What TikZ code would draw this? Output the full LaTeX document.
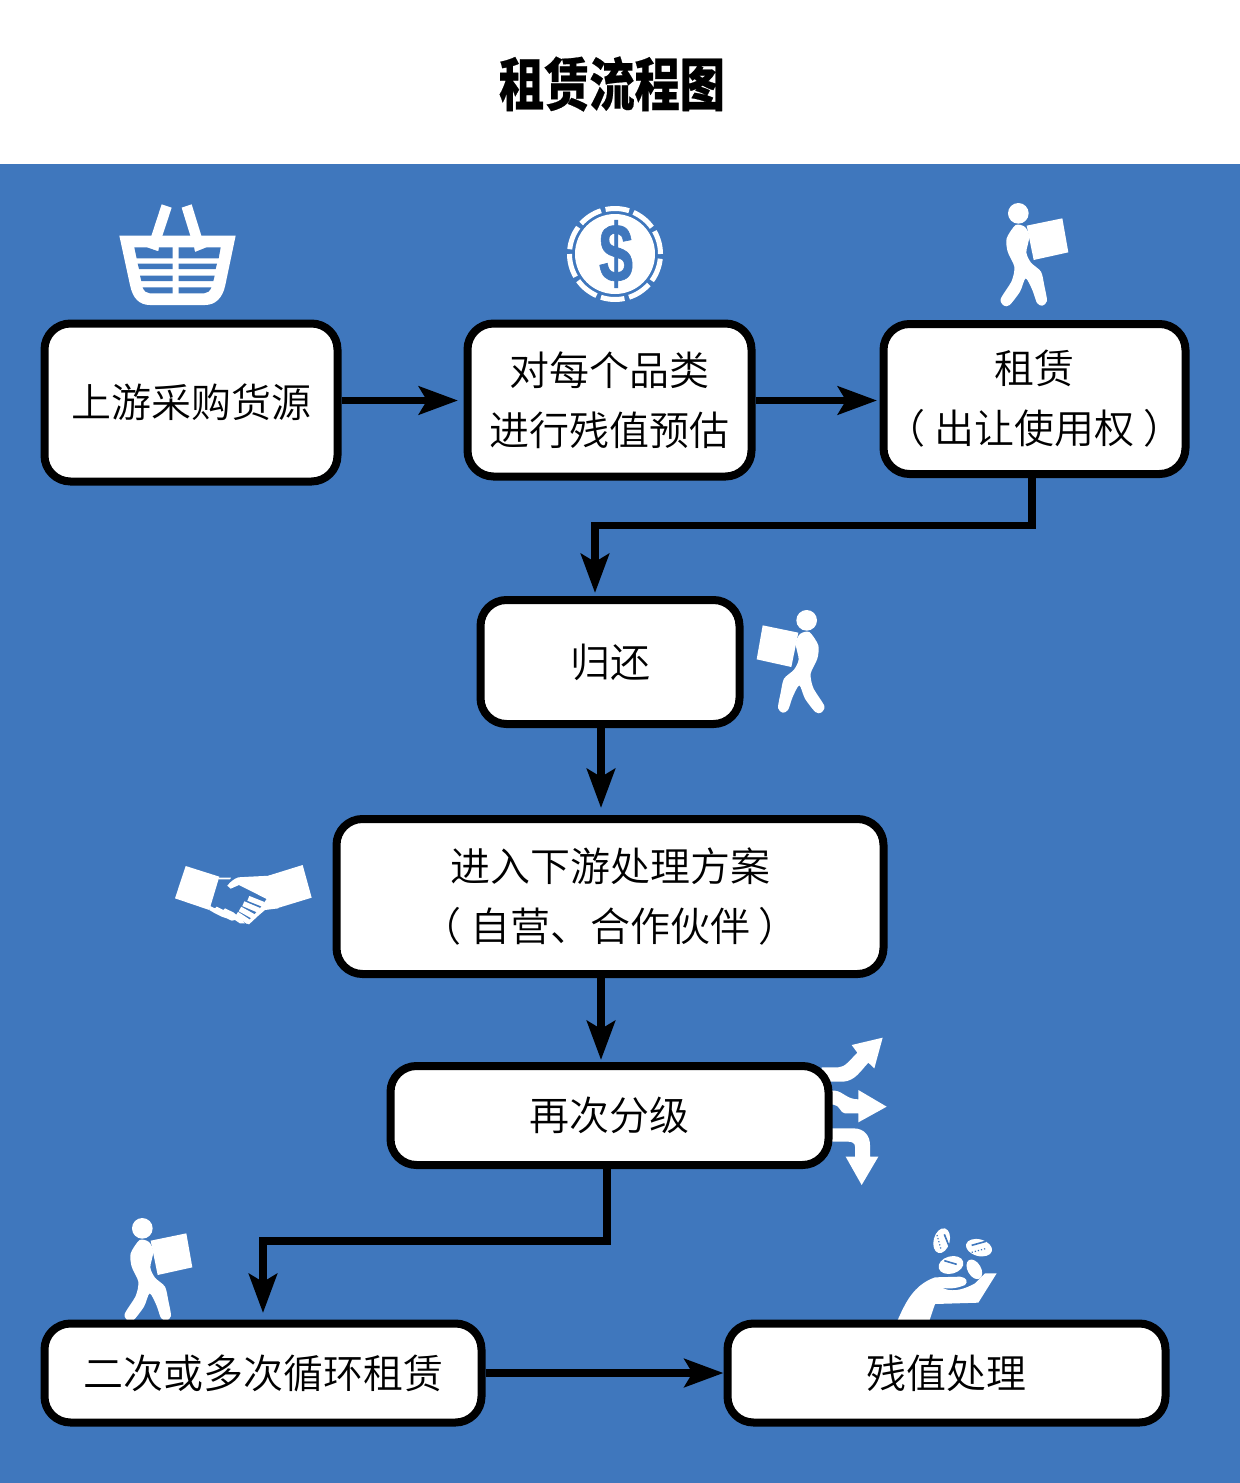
\documentclass[tikz,border=0pt]{standalone}
\usepackage{fontspec}
\newfontfamily\cjk{Noto Sans CJK SC DemiLight}
\newfontfamily\cjkbold[FakeBold=0.4]{Noto Sans CJK SC Black}
\newfontfamily\dollarfont[FakeBold=0.8]{Liberation Sans Bold}
\usetikzlibrary{calc,arrows.meta}
\definecolor{bgblue}{RGB}{63,119,189}
\tikzset{
  flowbox/.style={draw=black, line width=4pt, fill=white, rounded corners=13pt, align=center,
    font=\cjk\fontsize{20}{30}\selectfont, inner sep=0pt},
  flowline/.style={line width=3.75pt, -{Stealth[length=19.5pt,width=14pt,inset=4pt]}}
}
% 搬运工人 (原点取放大图左上角)
\def\porter{
  \fill[white] (100,55) circle (31);
  \fill[white] (125,92)--(232,70)--(250,172)--(146,195)--cycle;
  \fill[white] plot[smooth cycle, tension=0.45] coordinates {(92,90) (120,96) (133,125) (124,172) (138,203) (168,230)
    (178,272) (186,318) (172,332) (156,324) (142,285) (122,250) (105,290) (74,330) (57,332) (47,312) (80,258) (88,215) (68,170) (65,130)};
}
\begin{document}
\begin{tikzpicture}[x=0.5pt, y=-0.5pt]
  \useasboundingbox (0,0) rectangle (1240,1483);
  \fill[bgblue] (0,164) rectangle (1240,1483);
  \node[yscale=1.27, transform shape] (title) at (612,84) {\cjkbold\fontsize{22.6}{26}\selectfont 租赁流程图};

  % 购物篮
  \begin{scope}[shift={(100,190)}, scale=1/3]
    \fill[white] (185,43)--(215,53)--(183,150)--(150,150)--cycle;
    \fill[white] (245,53)--(275,43)--(308,150)--(275,150)--cycle;
    \fill[white] (58,137)--(407,137)--(376,285) .. controls (368,325) and (345,345) .. (315,345)
      --(150,345) .. controls (118,345) and (98,325) .. (90,285)--cycle;
    \fill[bgblue] (103,172)--(140,172)--(175,184)--(177,172)--(218,172)--(218,205)--(110,205)--cycle;
    \fill[bgblue] (236,172)--(282,172)--(285,186)--(320,172)--(362,172)--(356,205)--(236,205)--cycle;
    \fill[bgblue] (113,221)--(218,221)--(218,237)--(117,237)--cycle;
    \fill[bgblue] (236,221)--(351,221)--(347,237)--(236,237)--cycle;
    \fill[bgblue] (120,257)--(218,257)--(218,273)--(124,273)--cycle;
    \fill[bgblue] (236,257)--(344,257)--(340,273)--(236,273)--cycle;
    \fill[bgblue] (128,292)--(218,292)--(218,310)--(150,310) .. controls (140,310) and (132,303) .. (128,292)--cycle;
    \fill[bgblue] (236,292)--(334,292) .. controls (330,303) and (322,310) .. (312,310)--(236,310)--cycle;
  \end{scope}

  % 筹码
  \coordinate (coin) at (615,254);
  \fill[white] (coin) circle (40);
  \foreach \ang in {0,36,...,324}
    \draw[white, line width=2.5pt] ([shift={(\ang+6:45.5)}]coin) arc[start angle=\ang+6, delta angle=30, radius=45.5];
  \node[text=bgblue, inner sep=0pt, xscale=0.74, transform shape] (dollar) at (616,254) {\dollarfont\fontsize{41.5}{44}\selectfont \$};

  \begin{scope}[shift={(985,195)}, scale=1/3] \porter \end{scope}
  \begin{scope}[shift={(840,602)}, xscale=-1/3, yscale=1/3] \porter \end{scope}
  \begin{scope}[shift={(109,1210)}, scale=1/3] \porter \end{scope}

  % 握手
  \begin{scope}[shift={(165,855)}, scale=1/3]
    \fill[white] (62,33)--(163,65)--(133,165)--(30,130)--cycle;
    \fill[white] (310,62)--(413,30)--(440,128)--(335,160)--cycle;
    \fill[white] (160,68)--(198,68)--(195,73)--(160,73)--cycle;
    \fill[white] (315,62)--(255,65)--(220,67) .. controls (205,72) and (195,82) .. (187,92)--(197,101)--(222,90)--(305,132)--(285,160)--(262,185)--(244,205)--(252,208)--(280,182)--(300,165)--(340,160)--(340,70)--cycle;
    \foreach \p/\q in {{(250,130)}/{(295,148)}, {(235,146)}/{(282,166)}, {(225,162)}/{(268,186)}, {(215,177)}/{(250,200)}}
      \draw[white, line width=2.6pt] \p -- \q;
    \fill[white] (135,153)--(150,160)--(155,155)--(175,165)--(180,160)--(205,172)--(215,180)--(240,205)--(225,205)--(210,195)--(200,197)--(185,190)--(170,185)--(150,175)--(133,165)--cycle;
  \end{scope}

  % 分流箭头
  \begin{scope}[shift={(815,1030)}, scale=1/3]
    \fill[white] (20,112)--(70,112) .. controls (90,112) and (105,90) .. (127,68)--(110,45)--(203,23)--(178,115)--(160,98) .. controls (135,125) and (120,152) .. (85,155)--(20,155)--cycle;
    \fill[white] (30,182)--(60,182) .. controls (85,185) and (95,208) .. (130,208)--(130,180)--(215,230)--(130,277)--(130,250)--(90,250) .. controls (75,250) and (75,224) .. (55,224)--(30,224)--cycle;
    \fill[white] (30,295)--(115,295) .. controls (150,295) and (165,320) .. (165,345)--(165,380)--(190,380)--(140,465)--(92,380)--(120,380)--(120,350) .. controls (120,340) and (112,335) .. (100,335)--(30,335)--cycle;
  \end{scope}

  % 手与硬币
  \begin{scope}[shift={(885,1220)}, scale=1/3]
    \fill[white] (36,305) .. controls (60,250) and (85,195) .. (150,172)--(225,170) .. controls (245,172) and (250,185) .. (240,195) .. controls (215,205) and (195,208) .. (170,203) .. controls (195,215) and (225,215) .. (270,190)--(300,160)--(335,160)--(280,248)--(150,252)--(132,305)--cycle;
    \fill[white, rotate around={-15:(170,62)}] (170,62) ellipse (24 and 38);
    \fill[white, rotate around={-15:(282,83)}] (282,83) ellipse (40 and 25);
    \fill[white, rotate around={15:(198,135)}] (198,135) ellipse (38 and 26);
    \fill[white, rotate around={30:(268,148)}] (268,148) ellipse (20 and 32);
    \draw[bgblue, line width=0.8pt] (178,43) -- (192,78);
    \draw[bgblue, line width=0.6pt, densely dotted] (156,45) -- (168,88);
    \draw[bgblue, line width=0.8pt] (260,76) -- (303,64);
    \draw[bgblue, line width=0.6pt, densely dotted] (260,97) -- (305,85);
    \draw[bgblue, line width=0.8pt] (178,122) -- (215,133);
  \end{scope}

  % 流程框
  \node[flowbox, minimum width=146.5pt, minimum height=79pt] (purchase) at (191,402.5) {上游采购货源};
  \node[flowbox, minimum width=142pt, minimum height=76.5pt] (assess) at (609.5,400) {对每个品类\\进行残值预估};
  \node[flowbox, minimum width=151pt, minimum height=75pt] (lease) at (1034.5,399) {租赁\\（ 出让使用权 ）};
  \node[flowbox, minimum width=129.5pt, minimum height=62pt] (giveback) at (610,662) {归还};
  \node[flowbox, minimum width=273.5pt, minimum height=77.5pt] (plan) at (610,896.5) {进入下游处理方案\\（ 自营、合作伙伴 ）};
  \node[flowbox, minimum width=219pt, minimum height=49.5pt] (grade) at (609.5,1115.5) {再次分级};
  \node[flowbox, minimum width=218.5pt, minimum height=49.5pt] (cycle) at (263,1373) {二次或多次循环租赁};
  \node[flowbox, minimum width=219pt, minimum height=49.5pt] (residual) at (946.5,1373) {残值处理};

  % 连线
  \coordinate (leaseout) at (1032,477);
  \coordinate (turnA) at (595,525.5);
  \coordinate (backin) at (595,593);
  \coordinate (planin) at (601,808);
  \coordinate (backout) at (601,727);
  \coordinate (planout) at (601,977);
  \coordinate (gradein) at (601,1060);
  \coordinate (gradeout) at (607,1168);
  \coordinate (turnB) at (263,1241);
  \coordinate (cyclein) at (263,1313);
  \coordinate (firstin) at (462,400.5);
  \coordinate (secondin) at (878,400.5);
  \draw[flowline, shorten >=2pt] (purchase.east |- firstin) -- (firstin);
  \draw[flowline, shorten >=0.5pt] (assess.east |- secondin) -- (secondin);
  \draw[flowline] (leaseout) |- (turnA) -- (backin);
  \draw[flowline] (backout) -- (planin);
  \draw[flowline] (planout) -- (gradein);
  \draw[flowline] (gradeout) |- (turnB) -- (cyclein);
  \draw[flowline] (cycle.east) -- (residual.west);
\end{tikzpicture}
\end{document}
